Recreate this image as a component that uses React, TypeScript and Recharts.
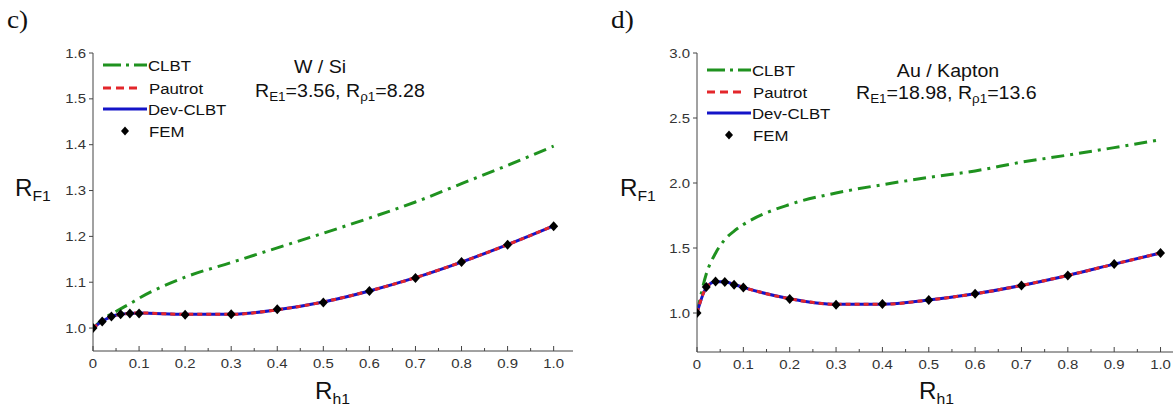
import React from 'react';
import { LineChart, Line, XAxis, YAxis } from 'recharts';

// thickness ratio R_h1 sampled by the FEM runs
const hRatio = [0, 0.02, 0.04, 0.06, 0.08, 0.1, 0.2, 0.3, 0.4, 0.5, 0.6, 0.7, 0.8, 0.9, 1.0];

// panel c) W / Si
const wsiClbt = [1.0, 1.018, 1.031, 1.042, 1.053, 1.065, 1.111, 1.143, 1.175, 1.207, 1.24, 1.275, 1.315, 1.355, 1.397];
const wsiPautrot = [1.0, 1.015, 1.025, 1.03, 1.032, 1.033, 1.03, 1.03, 1.04, 1.057, 1.081, 1.11, 1.144, 1.182, 1.223];
const wsiDevClbt = [1.0, 1.015, 1.025, 1.03, 1.032, 1.033, 1.03, 1.03, 1.04, 1.057, 1.081, 1.11, 1.144, 1.182, 1.223];
const wsiFem = [1.0, 1.0145, 1.025, 1.03, 1.032, 1.032, 1.029, 1.03, 1.041, 1.056, 1.081, 1.109, 1.144, 1.182, 1.222];

// panel d) Au / Kapton
const auClbt = [1.0, 1.3, 1.46, 1.565, 1.63, 1.68, 1.835, 1.923, 1.987, 2.043, 2.093, 2.16, 2.215, 2.272, 2.333];
const auPautrot = [1.0, 1.195, 1.24, 1.24, 1.22, 1.197, 1.11, 1.067, 1.067, 1.1, 1.148, 1.212, 1.289, 1.376, 1.462];
const auDevClbt = [1.0, 1.195, 1.24, 1.24, 1.22, 1.197, 1.11, 1.067, 1.067, 1.1, 1.148, 1.212, 1.289, 1.376, 1.462];
const auFem = [1.0, 1.2, 1.243, 1.238, 1.218, 1.197, 1.108, 1.064, 1.069, 1.1, 1.148, 1.212, 1.289, 1.377, 1.462];

const xTicks = [0, 0.05, 0.1, 0.15, 0.2, 0.25, 0.3, 0.35, 0.4, 0.45, 0.5, 0.55, 0.6, 0.65, 0.7, 0.75, 0.8, 0.85, 0.9, 0.95, 1.0];
const wsiYTicks = [1.0, 1.1, 1.2, 1.3, 1.4, 1.5, 1.6];
const auYTicks = [1.0, 1.5, 2.0, 2.5, 3.0];

const FONT = '"Liberation Sans", Arial, sans-serif';
const SERIF = '"Liberation Serif", "Times New Roman", serif';
const AXIS = '#444';
const GREEN = '#1f921f';
const RED = '#e3262b';
const BLUE = '#1414c8';
const SX = 1.12; // the source figure is stretched sideways a little

const buildRows = (clbt: number[], pautrot: number[], dev: number[], fem: number[]) =>
  hRatio.map((h, i) => ({ h, clbt: clbt[i], pautrot: pautrot[i], dev: dev[i], fem: fem[i] }));

const XTick = (props: any) => {
  const { x, y, payload } = props;
  const v = payload.value;
  const major = Math.abs(v * 10 - Math.round(v * 10)) < 1e-6;
  return (
    <g>
      <line x1={x} x2={x} y1={y} y2={y - (major ? 5 : 3)} stroke={AXIS} />
      {major && (
        <text
          transform={`translate(${x},${y + 17}) scale(1.15,1)`}
          textAnchor="middle"
          fontFamily={FONT}
          fontSize={13}
          fill="#333"
        >
          {v === 0 ? '0' : v.toFixed(1)}
        </text>
      )}
    </g>
  );
};

const YTick = (props: any) => {
  const { x, y, payload } = props;
  return (
    <text
      transform={`translate(${x},${y + 4.5}) scale(1.15,1)`}
      textAnchor="end"
      fontFamily={FONT}
      fontSize={13}
      fill="#333"
    >
      {payload.value.toFixed(1)}
    </text>
  );
};

const Diamond = (props: any) => {
  const { cx, cy, index } = props;
  if (cx == null || cy == null) return <g key={`fem-${index}`} />;
  return (
    <path
      key={`fem-${index}`}
      d={`M${cx},${cy - 5} L${cx + 4.5},${cy} L${cx},${cy + 5} L${cx - 4.5},${cy} Z`}
      fill="#000"
    />
  );
};

interface PanelProps {
  rows: any[];
  yDomain: [number, number];
  yTicks: number[];
  left: number;
  margin: { top: number; right: number; bottom: number; left: number };
}

const Panel: React.FC<PanelProps> = ({ rows, yDomain, yTicks, left, margin }) => (
  <div style={{ position: 'absolute', left, top: 0 }}>
    <LineChart width={600} height={412} data={rows} margin={margin}>
      <XAxis
        dataKey="h"
        type="number"
        domain={[0, 1.042]}
        allowDataOverflow
        ticks={xTicks}
        interval={0}
        tickSize={0}
        tickMargin={0}
        tickLine={false}
        tick={XTick}
        axisLine={{ stroke: AXIS }}
        height={30}
      />
      <XAxis
        xAxisId="top"
        orientation="top"
        dataKey="h"
        type="number"
        domain={[0, 1.042]}
        allowDataOverflow
        tick={false}
        tickLine={false}
        axisLine={{ stroke: AXIS }}
        height={0}
      />
      <YAxis
        type="number"
        domain={yDomain}
        allowDataOverflow
        ticks={yTicks}
        interval={0}
        tickSize={4}
        tickMargin={3}
        tickLine={{ stroke: AXIS }}
        tick={YTick}
        axisLine={{ stroke: AXIS }}
        width={40}
      />
      <YAxis
        yAxisId="right"
        orientation="right"
        type="number"
        domain={yDomain}
        tick={false}
        tickLine={false}
        axisLine={{ stroke: AXIS }}
        width={0}
      />
      <Line
        type="monotone"
        dataKey="clbt"
        stroke={GREEN}
        strokeWidth={3}
        strokeDasharray="13 6 3 6"
        dot={false}
        activeDot={false}
        isAnimationActive={false}
      />
      <Line
        type="monotone"
        dataKey="dev"
        stroke={BLUE}
        strokeWidth={3}
        dot={false}
        activeDot={false}
        isAnimationActive={false}
      />
      <Line
        type="monotone"
        dataKey="pautrot"
        stroke={RED}
        strokeWidth={3}
        strokeDasharray="5 4"
        dot={false}
        activeDot={false}
        isAnimationActive={false}
      />
      <Line
        dataKey="fem"
        stroke="none"
        dot={Diamond}
        activeDot={false}
        isAnimationActive={false}
      />
    </LineChart>
  </div>
);

const Stretch: React.FC<any> = ({ x, y, sx = SX, children, ...rest }) => (
  <text transform={`translate(${x},${y}) scale(${sx},1)`} fontFamily={FONT} fill="#111" {...rest}>
    {children}
  </text>
);

const LegendBlock: React.FC<{ x: number; rows: number[] }> = ({ x, rows }) => (
  <g>
    <line x1={x} x2={x + 44} y1={rows[0]} y2={rows[0]} stroke={GREEN} strokeWidth={3} strokeDasharray="18 5 3 5" />
    <Stretch x={x + 45} y={rows[0] + 5.5} fontSize={15}>CLBT</Stretch>
    <line x1={x} x2={x + 34} y1={rows[1]} y2={rows[1]} stroke={RED} strokeWidth={3} strokeDasharray="8 5" />
    <Stretch x={x + 46} y={rows[1] + 5.5} fontSize={15}>Pautrot</Stretch>
    <line x1={x} x2={x + 44} y1={rows[2]} y2={rows[2]} stroke={BLUE} strokeWidth={3} />
    <Stretch x={x + 45} y={rows[2] + 5.5} fontSize={15}>Dev-CLBT</Stretch>
    <path
      d={`M${x + 22},${rows[3] - 4.5} L${x + 26},${rows[3]} L${x + 22},${rows[3] + 4.5} L${x + 18},${rows[3]} Z`}
      fill="#000"
    />
    <Stretch x={x + 46} y={rows[3] + 5.5} fontSize={15}>FEM</Stretch>
  </g>
);

const AxisTitle: React.FC<{ x: number; y: number; sub: string }> = ({ x, y, sub }) => (
  <Stretch x={x} y={y} fontSize={23} sx={1.05}>
    R<tspan fontSize={15} dy={5}>{sub}</tspan>
  </Stretch>
);

const Ratios: React.FC<{ x: number; y: number; e: string; rho: string }> = ({ x, y, e, rho }) => (
  <Stretch x={x} y={y} fontSize={17.5}>
    R<tspan fontSize={12} dy={4}>E1</tspan>
    <tspan dy={-4}>{`=${e}, R`}</tspan>
    <tspan fontSize={12} dy={4}>ρ1</tspan>
    <tspan dy={-4}>{`=${rho}`}</tspan>
  </Stretch>
);

const App: React.FC = () => {
  const wsiRows = buildRows(wsiClbt, wsiPautrot, wsiDevClbt, wsiFem);
  const auRows = buildRows(auClbt, auPautrot, auDevClbt, auFem);

  return (
    <div
      style={{
        position: 'absolute',
        left: 0,
        top: 0,
        width: 1173,
        height: 412,
        overflow: 'hidden',
        background: '#fff',
      }}
    >
      <Panel
        rows={wsiRows}
        yDomain={[0.95, 1.6]}
        yTicks={wsiYTicks}
        left={0}
        margin={{ top: 53, right: 27, bottom: 31, left: 53 }}
      />
      <Panel
        rows={auRows}
        yDomain={[0.7, 3.0]}
        yTicks={auYTicks}
        left={600}
        margin={{ top: 53, right: 20, bottom: 30, left: 57 }}
      />
      <svg
        width={1173}
        height={412}
        style={{ position: 'absolute', left: 0, top: 0, pointerEvents: 'none' }}
      >
        <Stretch x={7} y={28} fontSize={26} sx={1.05} fontFamily={SERIF}>c)</Stretch>
        <Stretch x={611} y={28} fontSize={26} sx={1.05} fontFamily={SERIF}>d)</Stretch>

        <AxisTitle x={15} y={196} sub="F1" />
        <AxisTitle x={620} y={196} sub="F1" />
        <AxisTitle x={315} y={399} sub="h1" />
        <AxisTitle x={919} y={399} sub="h1" />

        <LegendBlock x={103} rows={[65, 88, 109, 131]} />
        <LegendBlock x={707} rows={[70, 92, 113, 135]} />

        <Stretch x={320} y={73} fontSize={17.5} textAnchor="middle">W / Si</Stretch>
        <Ratios x={255} y={97} e="3.56" rho="8.28" />

        <Stretch x={948} y={77} fontSize={17.5} textAnchor="middle">Au / Kapton</Stretch>
        <Ratios x={856} y={99} e="18.98" rho="13.6" />
      </svg>
    </div>
  );
};

export default App;
